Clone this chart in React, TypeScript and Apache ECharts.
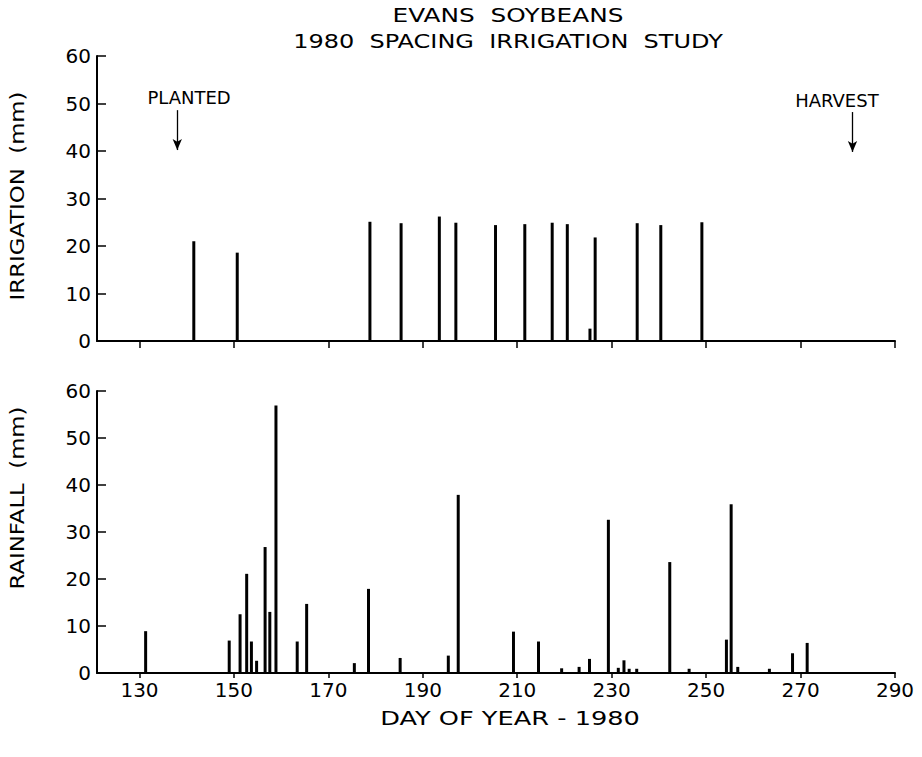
import React, { useEffect, useRef } from "react";
import * as echarts from "echarts";

// Irrigation events: day of year, amount (mm)
const irrigationDays = [141.5, 150.7, 178.8, 185.4, 193.5, 197.0, 205.4, 211.6, 217.4, 220.6, 225.4, 226.5, 235.4, 240.4, 249.1];
const irrigationMm = [21.0, 18.6, 25.1, 24.8, 26.2, 24.9, 24.4, 24.6, 24.9, 24.6, 2.6, 21.8, 24.8, 24.4, 25.0];

// Rainfall events: day of year, amount (mm)
const rainDays = [131.3, 149.0, 151.3, 152.7, 153.7, 154.8, 156.6, 157.6, 158.9, 163.4, 165.4, 175.5, 178.5, 185.2, 195.4, 197.5, 209.2, 214.5, 219.4, 223.1, 225.3, 229.3, 231.4, 232.6, 233.7, 235.3, 242.3, 246.4, 254.3, 255.3, 256.7, 263.4, 268.3, 271.4];
const rainMm = [8.9, 6.9, 12.5, 21.1, 6.7, 2.6, 26.8, 13.0, 56.9, 6.7, 14.7, 2.1, 17.9, 3.2, 3.7, 37.9, 8.8, 6.7, 1.0, 1.3, 3.0, 32.6, 1.1, 2.7, 0.9, 0.9, 23.6, 0.9, 7.1, 35.9, 1.3, 0.9, 4.2, 6.4];

const xTickValues = [130, 150, 170, 190, 210, 230, 250, 270, 290];

const plantedDay = 138;
const harvestDay = 281;

const FONT = "DejaVu Sans";

function txt(text: string, x: number, y: number, size: number, sx: number, rot = 0) {
  return {
    type: "text",
    x,
    y,
    rotation: rot,
    scaleX: sx,
    style: {
      text,
      fontSize: size,
      fontFamily: FONT,
      fill: "#000",
      textAlign: "center",
      textVerticalAlign: "middle",
      align: "center",
      verticalAlign: "middle",
    },
  };
}

export default function App() {
  const ref = useRef<HTMLDivElement>(null);

  useEffect(() => {
    document.body.style.margin = "0";
    const chart = echarts.init(ref.current!, null, { renderer: "svg" });

    const xBase = {
      type: "value",
      min: 121,
      max: 290,
      splitLine: { show: false },
      axisLine: { show: true, onZero: false, lineStyle: { color: "#000", width: 2 } },
    };
    const yBase = {
      type: "value",
      min: 0,
      max: 60,
      interval: 10,
      splitLine: { show: false },
      axisLine: { show: true, lineStyle: { color: "#000", width: 2 } },
      axisTick: { show: true, inside: true, length: 9, lineStyle: { color: "#000", width: 1.5 } },
      axisLabel: { show: true, color: "#000", fontSize: 20, fontFamily: FONT, margin: 6 },
    };

    const irrData = irrigationDays.map((d, i) => [d, irrigationMm[i]]);
    const rainData = rainDays.map((d, i) => [d, rainMm[i]]);

    chart.setOption({
      animation: false,
      backgroundColor: "#fff",
      grid: [
        { left: 97, width: 798, top: 56, height: 285 },
        { left: 97, width: 798, top: 391, height: 282 },
      ],
      xAxis: [
        {
          ...xBase,
          gridIndex: 0,
          axisTick: { show: true, customValues: xTickValues, length: 7, lineStyle: { color: "#000", width: 1.5 } },
          axisLabel: { show: false },
        },
        {
          ...xBase,
          gridIndex: 1,
          axisTick: { show: true, customValues: xTickValues, length: 5, lineStyle: { color: "#000", width: 1.5 } },
          axisLabel: { show: true, customValues: xTickValues, color: "#000", fontSize: 20, fontFamily: FONT, margin: 7 },
        },
      ],
      yAxis: [
        { ...yBase, gridIndex: 0 },
        { ...yBase, gridIndex: 1 },
      ],
      series: [
        {
          type: "bar",
          xAxisIndex: 0,
          yAxisIndex: 0,
          barWidth: 3,
          itemStyle: { color: "#000" },
          data: irrData,
          markLine: {
            silent: true,
            symbol: ["none", "arrow"],
            symbolSize: [7, 11],
            lineStyle: { color: "#000", width: 1.3, type: "solid" },
            label: { show: false },
            data: [
              [{ coord: [plantedDay, 48.6] }, { coord: [plantedDay, 40.2] }],
              [{ coord: [harvestDay, 48.2] }, { coord: [harvestDay, 39.8] }],
            ],
          },
          markPoint: {
            silent: true,
            symbol: "circle",
            symbolSize: 0,
            label: { show: true, position: "inside", formatter: "{b}", color: "#000", fontSize: 18, fontFamily: FONT },
            data: [
              { name: "PLANTED", coord: [140.5, 51.2] },
              { name: "HARVEST", coord: [277.7, 50.7] },
            ],
          },
        },
        {
          type: "bar",
          xAxisIndex: 1,
          yAxisIndex: 1,
          barWidth: 3,
          itemStyle: { color: "#000" },
          data: rainData,
        },
      ],
      graphic: [
        txt("EVANS  SOYBEANS", 508, 15, 20, 1.24),
        txt("1980  SPACING  IRRIGATION  STUDY", 508, 41, 20, 1.2),
        txt("IRRIGATION  (mm)", 18, 196, 19, 1.2, Math.PI / 2),
        txt("RAINFALL  (mm)", 18, 498, 19, 1.2, Math.PI / 2),
        txt("DAY OF YEAR - 1980", 510, 718, 19, 1.35),
      ],
    });

    return () => chart.dispose();
  }, []);

  return <div ref={ref} style={{ position: "absolute", left: 0, top: 0, width: 922, height: 757 }} />;
}
